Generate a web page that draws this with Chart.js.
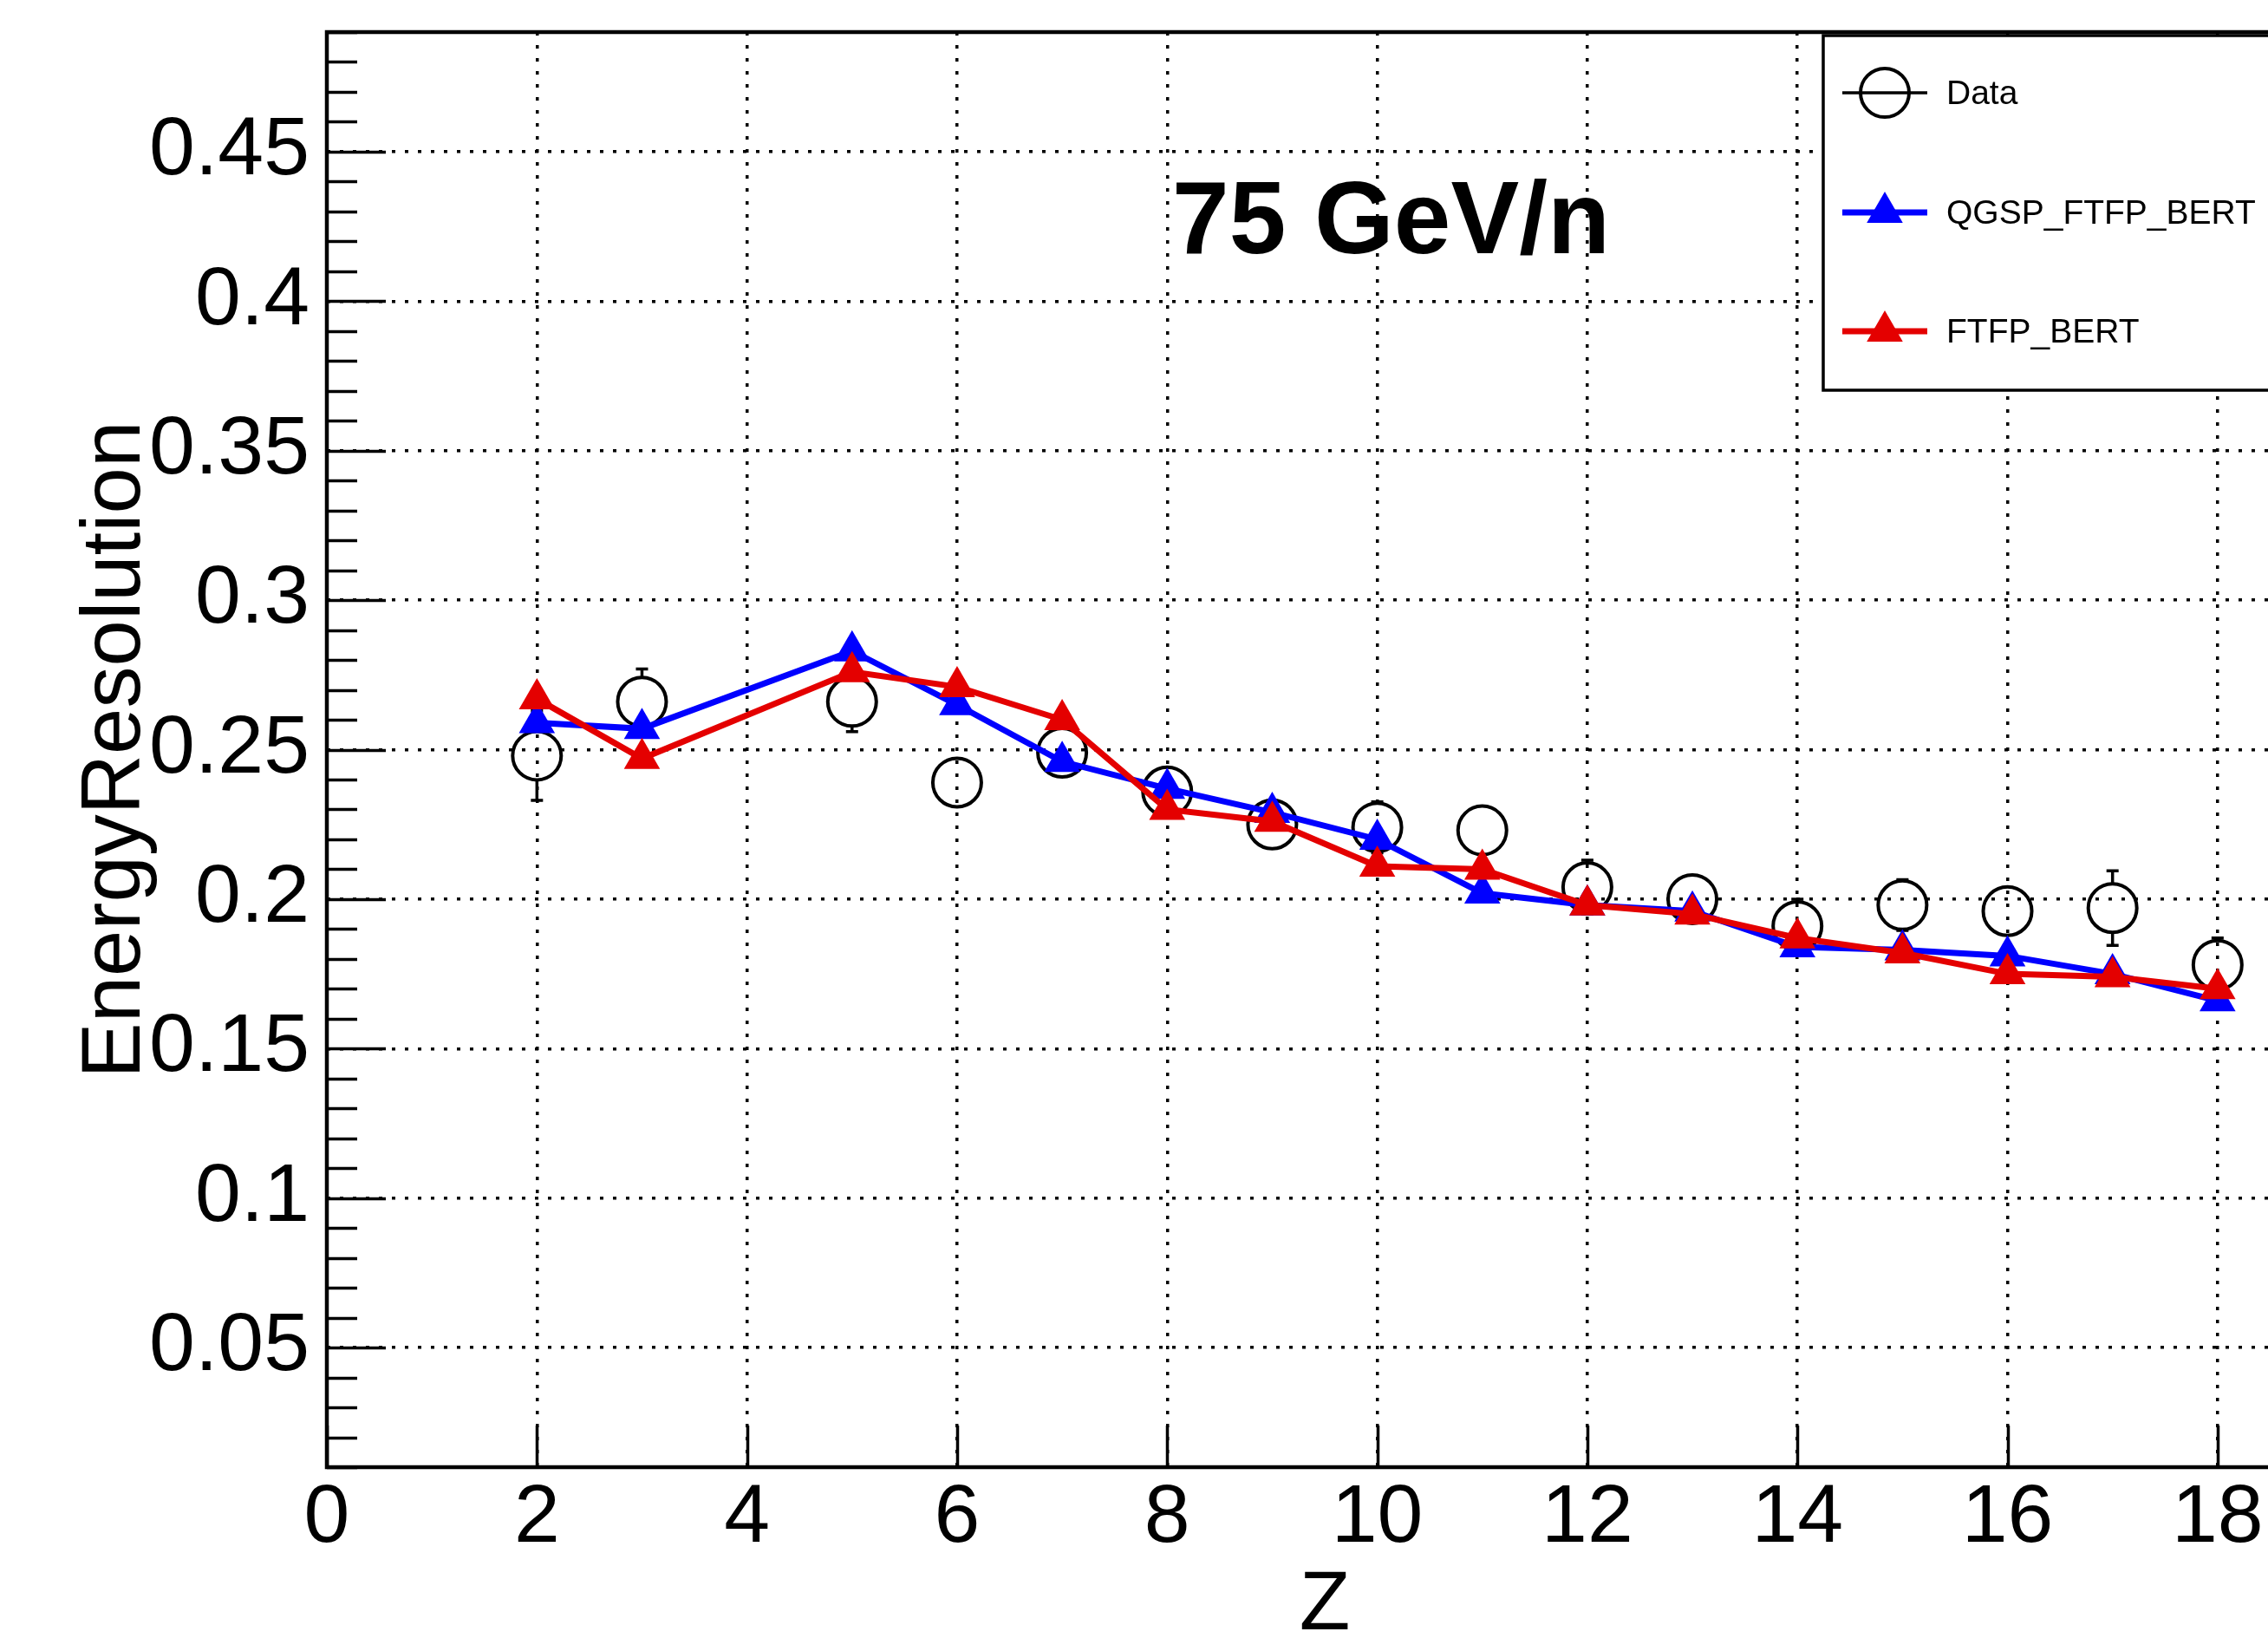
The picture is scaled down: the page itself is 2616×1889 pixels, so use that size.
<!DOCTYPE html>
<html>
<head>
<meta charset="utf-8">
<script src="https://cdn.jsdelivr.net/npm/chart.js@4.4.0/dist/chart.umd.min.js"></script>
<style>
  html, body { margin: 0; padding: 0; background: #fff; overflow: hidden; }
  #chart { display: block; }
</style>
</head>
<body>
<canvas id="chart" width="2720" height="1889"></canvas>
<script>
// Energy resolution vs Z at 75 GeV/n
const zValues     = [2, 3, 5, 6, 7, 8, 9, 10, 11, 12, 13, 14, 15, 16, 17, 18];
const dataValues  = [0.248, 0.266, 0.266, 0.239, 0.249, 0.236, 0.225, 0.224, 0.223, 0.204, 0.200, 0.191, 0.198, 0.196, 0.197, 0.178];
const dataErrors  = [0.015, 0.011, 0.010, 0.005, 0.006, 0.006, 0.006, 0.0085, 0.006, 0.009, 0.008, 0.009, 0.0085, 0.007, 0.0125, 0.009];
const qgspValues  = [0.259, 0.257, 0.283, 0.265, 0.246, 0.237, 0.229, 0.220, 0.202, 0.198, 0.196, 0.184, 0.183, 0.181, 0.175, 0.166];
const ftfpValues  = [0.267, 0.247, 0.276, 0.271, 0.260, 0.230, 0.226, 0.211, 0.210, 0.198, 0.195, 0.187, 0.182, 0.175, 0.174, 0.170];

const xTickValues = [0, 2, 4, 6, 8, 10, 12, 14, 16, 18];
const yTickValues = [0.05, 0.1, 0.15, 0.2, 0.25, 0.3, 0.35, 0.4, 0.45];
const plotLabel = '75 GeV/n';

const FONT = '"Liberation Sans", Arial, Helvetica, sans-serif';
const CIRCLE_R = 28;
const TRI_R = 24;
const BLUE = '#0000ff';
const RED = '#e40000';

const toPoints = vals => zValues.map((z, i) => ({ x: z, y: vals[i] }));

// frame, inside ticks and error bars, ROOT style
const rootFrame = {
    id: 'rootFrame',
    beforeDatasetsDraw(chart) {
        const { ctx, chartArea: a, scales: { x, y } } = chart;
        ctx.save();
        ctx.strokeStyle = '#000';
        ctx.lineWidth = 3.5;

        // y ticks every 0.01, major every 0.05
        for (let i = 1; i <= 49; i++) {
            const py = Math.round(y.getPixelForValue(i / 100)) + 0.5;
            const len = i % 5 === 0 ? 68 : 35;
            ctx.beginPath();
            ctx.moveTo(a.left, py);
            ctx.lineTo(a.left + len, py);
            ctx.stroke();
        }
        xTickValues.forEach(v => {
            const px = Math.round(x.getPixelForValue(v)) + 0.5;
            ctx.beginPath();
            ctx.moveTo(px, a.bottom);
            ctx.lineTo(px, a.bottom - 48);
            ctx.stroke();
        });

        ctx.lineWidth = 4.5;
        ctx.strokeRect(a.left, a.top, a.right - a.left, a.bottom - a.top);

        // error bars of the data points, outside the marker only
        ctx.lineWidth = 3.5;
        zValues.forEach((z, i) => {
            const px = x.getPixelForValue(z);
            const py = y.getPixelForValue(dataValues[i]);
            const top = y.getPixelForValue(dataValues[i] + dataErrors[i]);
            const bot = y.getPixelForValue(dataValues[i] - dataErrors[i]);
            [[top, -1], [bot, 1]].forEach(([end, dir]) => {
                if (Math.abs(end - py) <= CIRCLE_R) return;
                ctx.beginPath();
                ctx.moveTo(px, py + dir * CIRCLE_R);
                ctx.lineTo(px, end);
                ctx.moveTo(px - 7, end);
                ctx.lineTo(px + 7, end);
                ctx.stroke();
            });
        });
        ctx.restore();
    },
    afterDraw(chart) {
        const { ctx } = chart;
        ctx.save();

        ctx.fillStyle = '#000';
        ctx.font = 'bold 118px ' + FONT;
        ctx.textAlign = 'left';
        ctx.textBaseline = 'alphabetic';
        ctx.fillText(plotLabel, 1352, 292);

        // legend box
        const box = { left: 2103, top: 41, right: 2679, bottom: 450 };
        ctx.fillStyle = '#fff';
        ctx.fillRect(box.left, box.top, box.right - box.left, box.bottom - box.top);
        ctx.strokeStyle = '#000';
        ctx.lineWidth = 3.5;
        ctx.strokeRect(box.left, box.top, box.right - box.left, box.bottom - box.top);

        const rows = [107, 245, 382];
        const mx = 2174;
        chart.data.datasets.forEach((ds, i) => {
            const ry = rows[i];
            const col = ds.pointBorderColor;
            ctx.strokeStyle = col;
            ctx.lineWidth = i === 0 ? 3.5 : 7;
            ctx.beginPath();
            ctx.moveTo(2125, ry);
            ctx.lineTo(2223, ry);
            ctx.stroke();
            if (ds.pointStyle === 'circle') {
                ctx.lineWidth = 4;
                ctx.beginPath();
                ctx.arc(mx, ry, CIRCLE_R, 0, Math.PI * 2);
                ctx.stroke();
            } else {
                ctx.fillStyle = col;
                ctx.beginPath();
                ctx.moveTo(mx, ry - TRI_R);
                ctx.lineTo(mx + TRI_R * Math.sin(Math.PI / 3), ry + TRI_R / 2);
                ctx.lineTo(mx - TRI_R * Math.sin(Math.PI / 3), ry + TRI_R / 2);
                ctx.closePath();
                ctx.fill();
            }
            ctx.fillStyle = '#000';
            ctx.font = '39px ' + FONT;
            ctx.textBaseline = 'middle';
            ctx.fillText(ds.label, 2245, ry + 2);
        });
        ctx.restore();
    }
};

new Chart(document.getElementById('chart'), {
    type: 'line',
    data: {
        datasets: [
            {
                label: 'Data',
                data: toPoints(dataValues),
                showLine: false,
                pointStyle: 'circle',
                pointRadius: CIRCLE_R,
                pointBorderWidth: 4,
                pointBorderColor: '#000',
                pointBackgroundColor: 'rgba(0,0,0,0)',
                order: 2,
            },
            {
                label: 'QGSP_FTFP_BERT',
                data: toPoints(qgspValues),
                borderColor: BLUE,
                borderWidth: 7,
                tension: 0,
                pointStyle: 'triangle',
                pointRadius: TRI_R,
                pointBorderWidth: 0,
                pointBorderColor: BLUE,
                pointBackgroundColor: BLUE,
                order: 1,
            },
            {
                label: 'FTFP_BERT',
                data: toPoints(ftfpValues),
                borderColor: RED,
                borderWidth: 7,
                tension: 0,
                pointStyle: 'triangle',
                pointRadius: TRI_R,
                pointBorderWidth: 0,
                pointBorderColor: RED,
                pointBackgroundColor: RED,
                order: 0,
            },
        ]
    },
    options: {
        responsive: false,
        animation: false,
        events: [],
        layout: { padding: { left: 0, top: 37, right: 41, bottom: 0 } },
        plugins: {
            legend: { display: false },
            tooltip: { enabled: false },
        },
        scales: {
            x: {
                type: 'linear',
                min: 0,
                max: 19,
                afterBuildTicks: s => { s.ticks = xTickValues.map(v => ({ value: v })); },
                afterFit: s => {
                    s.height = 197;
                    s.paddingLeft = 0;
                    s.paddingRight = 0;
                },
                grid: { color: '#000', lineWidth: 3.5, drawTicks: false },
                border: { display: false, dash: [4, 11] },
                ticks: {
                    autoSkip: false,
                    maxRotation: 0,
                    padding: 3,
                    color: '#000',
                    font: { family: FONT, size: 95 },
                },
                title: {
                    display: true,
                    text: 'Z',
                    color: '#000',
                    font: { family: FONT, size: 96 },
                    padding: { top: 0, bottom: -21 },
                },
            },
            y: {
                min: 0.01,
                max: 0.49,
                afterBuildTicks: s => { s.ticks = yTickValues.map(v => ({ value: v })); },
                afterFit: s => {
                    s.width = 377;
                    s.paddingTop = 0;
                    s.paddingBottom = 0;
                },
                grid: { color: '#000', lineWidth: 3.5, drawTicks: false },
                border: { display: false, dash: [4, 11] },
                ticks: {
                    padding: 20,
                    color: '#000',
                    font: { family: FONT, size: 95 },
                    callback: v => String(+v.toFixed(2)),
                },
                title: {
                    display: true,
                    text: 'EnergyResolution',
                    color: '#000',
                    font: { family: FONT, size: 96 },
                    padding: { top: 77, bottom: 0 },
                },
            },
        },
    },
    plugins: [rootFrame],
});
</script>
</body>
</html>
